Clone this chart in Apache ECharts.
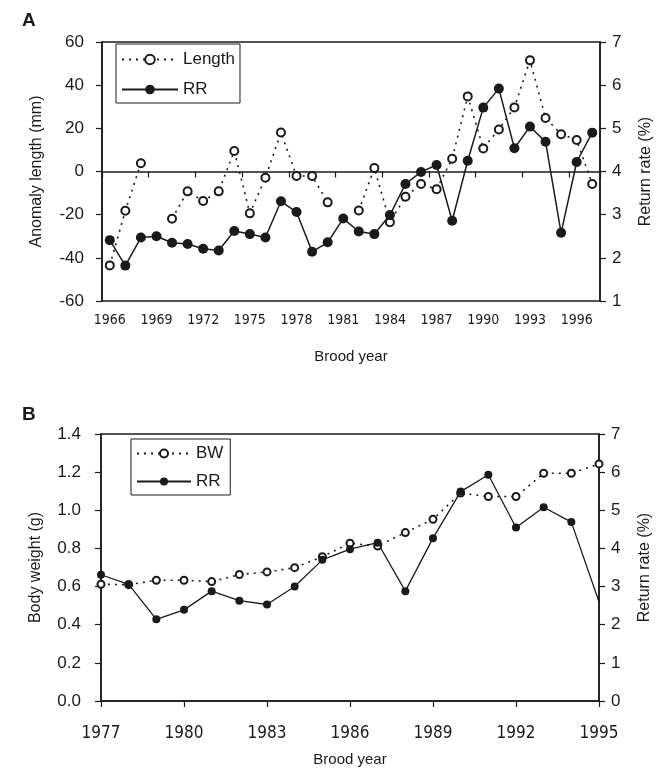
<!DOCTYPE html>
<html lang="en">
<head>
    <meta charset="UTF-8">
    <title>Brood year charts</title>
    <script src="https://cdn.jsdelivr.net/npm/echarts@6/dist/echarts.min.js"></script>
    <style>
        body {
            margin: 0;
            background: #ffffff;
        }
        #main {
            width: 669px;
            height: 771px;
        }
    </style>
</head>
<body>
<div id="main"></div>

<script>
    // panel A
    var yearsA = ['1966', '1967', '1968', '1969', '1970', '1971', '1972', '1973', '1974', '1975', '1976',
        '1977', '1978', '1979', '1980', '1981', '1982', '1983', '1984', '1985', '1986', '1987',
        '1988', '1989', '1990', '1991', '1992', '1993', '1994', '1995', '1996', '1997'];
    var lengthA = [-43.5, -18.2, 3.8, null, -21.9, -9.2, -13.7, -9.2, 9.5, -19.4, -2.9,
        18.1, -2.1, -2.1, -14.3, null, -18.1, 1.6, -23.5, -11.7, -5.8, -8.2,
        5.9, 34.8, 10.7, 19.5, 29.7, 51.5, 24.8, 17.3, 14.6, -5.8];
    var rrA = [2.41, 1.82, 2.47, 2.50, 2.35, 2.32, 2.21, 2.17, 2.62, 2.55, 2.47,
        3.31, 3.06, 2.14, 2.36, 2.91, 2.61, 2.55, 2.99, 3.71, 3.99, 4.15,
        2.86, 4.25, 5.48, 5.92, 4.54, 5.04, 4.69, 2.58, 4.22, 4.90];

    // panel B
    var yearsB = ['1977', '1978', '1979', '1980', '1981', '1982', '1983', '1984', '1985', '1986',
        '1987', '1988', '1989', '1990', '1991', '1992', '1993', '1994', '1995'];
    var bwB = [0.612, 0.61, 0.633, 0.633, 0.626, 0.663, 0.677, 0.699, 0.757, 0.827,
        0.813, 0.883, 0.953, 1.09, 1.072, 1.072, 1.194, 1.194, 1.243];
    var rrB = [3.31, 3.06, 2.14, 2.39, 2.88, 2.63, 2.53, 3.00, 3.70, 3.98,
        4.15, 2.88, 4.27, 5.49, 5.93, 4.55, 5.08, 4.69, 2.60];

    var ink = '#1a1a1a';
    var narrow = "'Liberation Sans Narrow', 'DejaVu Sans Condensed', sans-serif";
    var sans = "'Liberation Sans', Arial, sans-serif";

    function yAxis(grid, min, max, step, name, right, gap, margin, fmt) {
        return {
            type: 'value',
            gridIndex: grid,
            position: right ? 'right' : 'left',
            min: min, max: max, interval: step,
            name: name,
            nameLocation: 'middle',
            nameGap: gap,
            nameRotate: 90,
            nameTextStyle: {color: ink, fontSize: 16, fontFamily: sans},
            axisLine: {show: true, lineStyle: {color: ink, width: 1.5}},
            axisTick: {show: true, length: 6, lineStyle: {color: ink, width: 1.2}},
            axisLabel: {color: ink, fontSize: 17, fontFamily: sans, margin: margin, formatter: fmt},
            splitLine: {show: false}
        };
    }

    function xAxis(grid, cats, gapOn, labelSize, margin, nameGap) {
        return {
            type: 'category',
            gridIndex: grid,
            data: cats,
            boundaryGap: gapOn,
            name: 'Brood year',
            nameLocation: 'middle',
            nameGap: nameGap,
            nameTextStyle: {color: ink, fontSize: 15, fontFamily: sans},
            axisLine: {show: true, lineStyle: {color: ink, width: 1.5}},
            axisTick: {show: true, interval: 2, length: 6, lineStyle: {color: ink, width: 1.2}},
            axisLabel: {interval: 2, color: ink, fontSize: labelSize, fontFamily: narrow, margin: margin}
        };
    }

    var chart = echarts.init(document.getElementById('main'));

    // last RR point in B is drawn without a marker
    var rrBData = rrB.map(function (v, i) {
        return i === rrB.length - 1 ? {value: v, symbol: 'none'} : v;
    });

    chart.setOption({
        animation: false,
        backgroundColor: '#ffffff',
        title: [
            {text: 'A', left: 17, top: 6, textStyle: {fontSize: 19, fontWeight: 'bold', color: ink, fontFamily: sans}},
            {text: 'B', left: 17, top: 400, textStyle: {fontSize: 19, fontWeight: 'bold', color: ink, fontFamily: sans}}
        ],
        legend: [
            {
                data: ['Length', 'RR'],
                orient: 'vertical',
                left: 116, top: 44,
                itemWidth: 56, itemHeight: 12, itemGap: 13,
                padding: [7, 5, 5, 5],
                borderColor: ink, borderWidth: 1,
                textStyle: {fontSize: 17, color: ink, fontFamily: sans}
            },
            {
                data: ['BW', 'RR '],
                orient: 'vertical',
                left: 131, top: 439,
                itemWidth: 54, itemHeight: 10, itemGap: 11,
                padding: [6, 5, 5, 5],
                borderColor: ink, borderWidth: 1,
                textStyle: {fontSize: 17, color: ink, fontFamily: sans}
            }
        ],
        grid: [
            {left: 102, top: 42, width: 498, height: 259, show: true, borderColor: ink, borderWidth: 1.5},
            {left: 101, top: 434, width: 498, height: 267, show: true, borderColor: ink, borderWidth: 1.5}
        ],
        xAxis: [
            xAxis(0, yearsA, true, 14, 12, 48),
            xAxis(1, yearsB, false, 17, 24, 51)
        ],
        yAxis: [
            yAxis(0, -60, 60, 20, 'Anomaly length (mm)', false, 57, 18),
            yAxis(0, 1, 7, 1, 'Return rate (%)', true, 38, 12),
            yAxis(1, 0, 1.4, 0.2, 'Body weight (g)', false, 57, 20, function (v) { return v.toFixed(1); }),
            yAxis(1, 0, 7, 1, 'Return rate (%)', true, 38, 12)
        ],
        series: [
            {
                name: 'Length', type: 'line', xAxisIndex: 0, yAxisIndex: 0,
                data: lengthA, connectNulls: false,
                symbol: 'emptyCircle', symbolSize: 8,
                lineStyle: {color: ink, width: 1.6, type: [2, 5]},
                itemStyle: {color: ink, borderWidth: 1.4}
            },
            {
                name: 'RR', type: 'line', xAxisIndex: 0, yAxisIndex: 1,
                data: rrA,
                symbol: 'circle', symbolSize: 10,
                lineStyle: {color: ink, width: 1.5},
                itemStyle: {color: ink}
            },
            {
                name: 'BW', type: 'line', xAxisIndex: 1, yAxisIndex: 2,
                data: bwB,
                symbol: 'emptyCircle', symbolSize: 7,
                lineStyle: {color: ink, width: 1.6, type: [2, 5]},
                itemStyle: {color: ink, borderWidth: 1.2}
            },
            {
                name: 'RR ', type: 'line', xAxisIndex: 1, yAxisIndex: 3,
                data: rrBData,
                symbol: 'circle', symbolSize: 8,
                lineStyle: {color: ink, width: 1.3},
                itemStyle: {color: ink}
            }
        ]
    });
</script>
</body>
</html>
